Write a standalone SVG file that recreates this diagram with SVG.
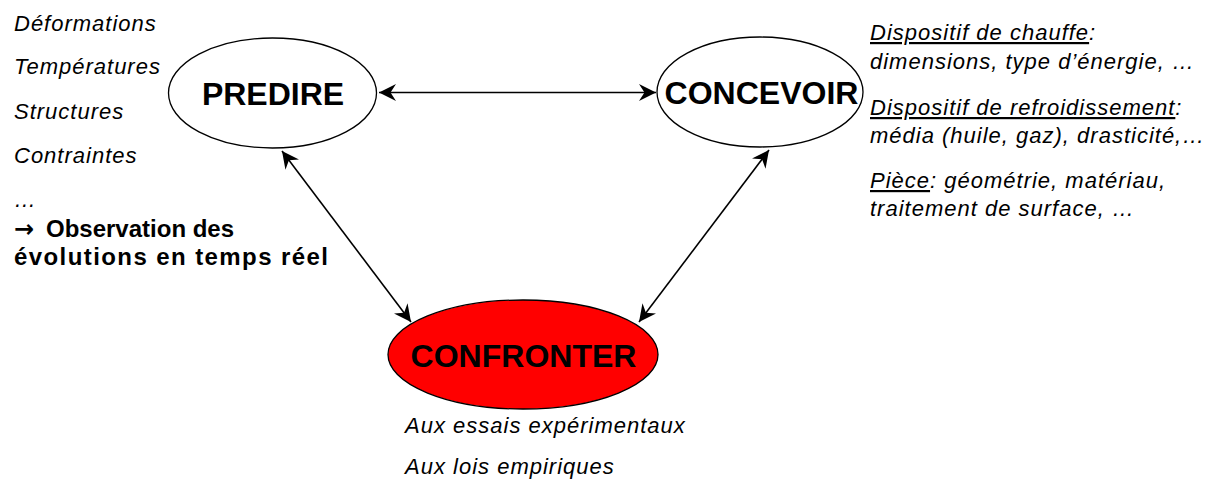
<svg xmlns="http://www.w3.org/2000/svg" width="1211" height="482" viewBox="0 0 1211 482">
<style>
text{font-family:"Liberation Sans",Arial,sans-serif;fill:#000}
.it{font-size:22px;font-style:italic;letter-spacing:1px}
.bd{font-size:24px;font-weight:bold}
.ar{font-family:"DejaVu Sans",sans-serif;font-weight:bold;font-size:24px}
.title{font-size:32px;font-weight:bold;text-anchor:middle}
.node{stroke:#000;stroke-width:1.3}
.conn{stroke:#000;stroke-width:1.6;fill:none;marker-start:url(#ah);marker-end:url(#ah)}
.u{text-decoration:underline}
</style>
<defs>
<marker id="ah" markerUnits="userSpaceOnUse" viewBox="0 0 18 18" markerWidth="18" markerHeight="18" refX="17" refY="9" orient="auto-start-reverse">
<path d="M17,9 L0,0.5 L5.5,9 L0,17.5 Z" fill="#000"/>
</marker>
</defs>
<g id="connectors">
<line class="conn" x1="379" y1="92.5" x2="656" y2="92.5"/>
<line class="conn" x1="282" y1="151" x2="411" y2="322"/>
<line class="conn" x1="769" y1="150" x2="639" y2="322"/>
</g>
<g id="predire">
<ellipse class="node" cx="272.5" cy="93" rx="104" ry="55" fill="#fff"/>
<text class="title" x="273" y="104.5">PREDIRE</text>
</g>
<g id="concevoir">
<ellipse class="node" cx="760" cy="92" rx="103" ry="55" fill="#fff"/>
<text class="title" x="761.5" y="103.5">CONCEVOIR</text>
</g>
<g id="confronter">
<ellipse class="node" cx="523" cy="354.5" rx="135" ry="54.5" fill="#ff0000"/>
<text class="title" x="523.5" y="366.5">CONFRONTER</text>
</g>
<g id="predire-notes">
<text class="it" x="14" y="31">Déformations</text>
<text class="it" x="14" y="74">Températures</text>
<text class="it" x="14" y="119">Structures</text>
<text class="it" x="14" y="163">Contraintes</text>
<text class="it" x="14" y="207">…</text>
<text class="bd" x="14" y="237"><tspan class="ar">→</tspan><tspan x="46">Observation des</tspan></text>
<text class="bd" x="14" y="265" textLength="314" lengthAdjust="spacing">évolutions en temps réel</text>
</g>
<g id="concevoir-notes">
<text class="it" x="870" y="40"><tspan class="u">Dispositif de chauffe</tspan>:</text>
<text class="it" x="870" y="69">dimensions, type d’énergie, …</text>
<text class="it" x="870" y="115"><tspan class="u">Dispositif de refroidissement</tspan>:</text>
<text class="it" x="870" y="143">média (huile, gaz), drasticité,…</text>
<text class="it" x="870" y="188"><tspan class="u">Pièce</tspan>: géométrie, matériau,</text>
<text class="it" x="870" y="216">traitement de surface, …</text>
</g>
<g id="confronter-notes">
<text class="it" x="405" y="433">Aux essais expérimentaux</text>
<text class="it" x="405" y="474">Aux lois empiriques</text>
</g>
</svg>
